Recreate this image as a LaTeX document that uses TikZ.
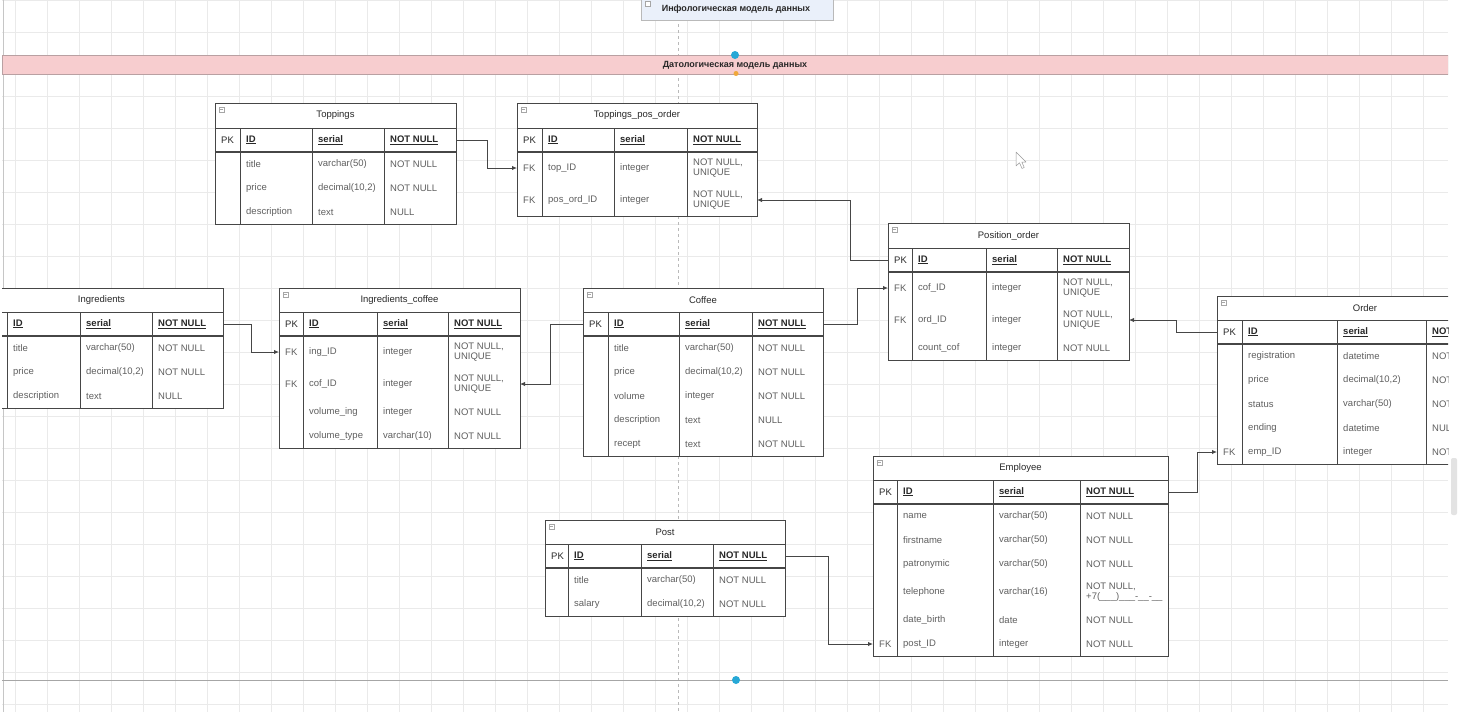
\documentclass[tikz,border=0pt]{standalone}
\usepackage{fontspec}
\setmainfont{Liberation Sans}
\usetikzlibrary{arrows.meta}

\definecolor{lineclr}{RGB}{70,70,70}
\definecolor{txtclr}{RGB}{95,95,95}
\definecolor{hdrclr}{RGB}{40,40,40}
\definecolor{bandfill}{RGB}{247,205,207}
\definecolor{bandline}{RGB}{185,160,162}
\definecolor{infofill}{RGB}{234,240,250}
\definecolor{dotblue}{RGB}{38,168,214}
\definecolor{dotorange}{RGB}{240,168,60}
\definecolor{gridclr}{RGB}{234,234,234}

\tikzset{
  tabline/.style={draw=lineclr, line width=1pt},
  pkline/.style={draw=lineclr, line width=1.6pt},
  cell/.style={anchor=west, inner sep=0pt, font=\fontsize{9.5}{10}\selectfont, text=txtclr, align=left},
  hcell/.style={cell, font=\fontsize{9.5}{10}\selectfont\bfseries, text=hdrclr},
  ttl/.style={inner sep=0pt, font=\fontsize{9.5}{10}\selectfont, text=hdrclr},
  rowbox/.style={anchor=west, inner sep=0pt, outer sep=0pt, draw=none, minimum height=#1},
  fk/.style={draw=lineclr, line width=1pt, -{Latex[length=5pt,width=4.5pt]}},
  iconbox/.style={draw=gray!70, line width=0.4pt, fill=white},
}

% column borders of the table being drawn
\newcommand{\setcols}[5]{\def\cA{#1}\def\cB{#2}\def\cC{#3}\def\cD{#4}\def\cE{#5}}

% frame of a table: name, top, title bottom, key row bottom, bottom, title
\newcommand{\ertab}[6]{%
  \node[tabline, fill=white, anchor=north west, inner sep=0pt, outer sep=0pt,
        minimum width={((\cE)-(\cA))*1pt}, minimum height={((#5)-(#2))*1pt}] (#1) at (\cA,#2) {};
  \draw[iconbox] ({\cA+4},{#2+4}) rectangle ({\cA+9},{#2+9});
  \draw[gray!70, line width=0.4pt] ({\cA+5},{#2+6.5}) -- ({\cA+8},{#2+6.5});
  \node[ttl] (#1-title) at ({((\cA)+(\cE))/2},{((#2)+(#3))/2}) {#6};
  \draw[tabline] (\cA,#3) -- (\cE,#3);
  \draw[pkline] (\cA,#4) -- (\cE,#4);
  \foreach \colx in {\cB,\cC,\cD} \draw[tabline] (\colx,#3) -- (\colx,#5);
}

% key row: name, y centre, key, field, type, constraint
\newcommand{\erpk}[6]{%
  \node[rowbox=24pt, minimum width={((\cE)-(\cA))*1pt}] (#1-pk) at (\cA,#2) {};
  \node[cell, text=hdrclr] (#1-pk-k) at ({\cA+6},#2) {#3};
  \node[hcell] (#1-pk-f) at ({\cB+6},#2) {\underline{#4}};
  \node[hcell] (#1-pk-t) at ({\cC+6},#2) {\underline{#5}};
  \node[hcell] (#1-pk-c) at ({\cD+6},#2) {\underline{#6}};
}

% body row: name, index, y centre, height, key, field, type, constraint
\newcommand{\errow}[8]{%
  \node[rowbox=#4pt, minimum width={((\cE)-(\cA))*1pt}] (#1-r#2) at (\cA,#3) {};
  \node[cell] (#1-r#2-k) at ({\cA+6},#3) {#5};
  \node[cell] (#1-r#2-f) at ({\cB+6},#3) {#6};
  \node[cell] (#1-r#2-t) at ({\cC+6},#3) {#7};
  \node[cell] (#1-r#2-c) at ({\cD+6},#3) {#8};
}

\begin{document}
\begin{tikzpicture}[x=1pt,y=-1pt]
\useasboundingbox (0,0) rectangle (1463,712);
\fill[white] (0,0) rectangle (1463,712);

% scroll bar of the canvas
\fill[gray!22, rounded corners=2pt] (1451,458) rectangle (1457,515);

\begin{scope}
\clip (2,0) rectangle (1448,712);

% background grid
\foreach \gx in {15,47,...,1447} \draw[gridclr, line width=0.5pt] (\gx,0) -- (\gx,712);
\foreach \gy in {0,32,...,704} \draw[gridclr, line width=0.5pt] (0,\gy) -- (1448,\gy);
\draw[gray!45, line width=0.8pt] (3,0) -- (3,712);

% vertical guide
\draw[gray!55, line width=0.6pt, dash pattern=on 3pt off 3pt] (678,0) -- (678,712);

% upper section heading
\node[draw=gray!55, fill=infofill, anchor=north west, inner sep=0pt,
      minimum width=192pt, minimum height=21pt] (info) at (641,-1) {};
\draw[iconbox] (645,1) rectangle (650,6);
\node[inner sep=0pt, font=\fontsize{9}{10}\selectfont\bfseries, text=hdrclr] (info-text) at (736,9) {Инфологическая модель данных};

% lower section band
\node[draw=bandline, fill=bandfill, anchor=north west, inner sep=0pt, line width=0.8pt,
      minimum width=1446pt, minimum height=19pt] (band) at (2,55) {};
\node[inner sep=0pt, font=\fontsize{9}{10}\selectfont\bfseries, text=hdrclr] (band-text) at (735,65) {Датологическая модель данных};
\fill[dotblue] (735,55) circle (4pt);
\fill[dotorange] (736,73.5) circle (2.5pt);

% bottom boundary
\draw[gray!70, line width=0.8pt] (2,680) -- (1448,680);
\fill[dotblue] (736,680) circle (4pt);

% ---------- Toppings ----------
\setcols{215}{240}{312}{384}{456}
\ertab{top}{103}{128}{152}{224}{Toppings}
\erpk{top}{140}{PK}{ID}{serial}{NOT NULL}
\errow{top}{1}{164}{24}{}{title}{varchar(50)}{NOT NULL}
\errow{top}{2}{188}{24}{}{price}{decimal(10,2)}{NOT NULL}
\errow{top}{3}{212}{24}{}{description}{text}{NULL}

% ---------- Toppings_pos_order ----------
\setcols{517}{542}{614}{687}{757}
\ertab{tpo}{103}{128}{152}{216}{Toppings\_pos\_order}
\erpk{tpo}{140}{PK}{ID}{serial}{NOT NULL}
\errow{tpo}{1}{168}{32}{FK}{top\_ID}{integer}{NOT NULL,\\UNIQUE}
\errow{tpo}{2}{200}{32}{FK}{pos\_ord\_ID}{integer}{NOT NULL,\\UNIQUE}

% ---------- Ingredients (runs past the left edge) ----------
\setcols{-20}{7}{80}{152}{223}
\ertab{ing}{288}{312}{336}{408}{Ingredients}
\erpk{ing}{324}{}{ID}{serial}{NOT NULL}
\errow{ing}{1}{348}{24}{}{title}{varchar(50)}{NOT NULL}
\errow{ing}{2}{372}{24}{}{price}{decimal(10,2)}{NOT NULL}
\errow{ing}{3}{396}{24}{}{description}{text}{NULL}

% ---------- Ingredients_coffee ----------
\setcols{279}{303}{377}{448}{520}
\ertab{ic}{288}{312}{336}{448}{Ingredients\_coffee}
\erpk{ic}{324}{PK}{ID}{serial}{NOT NULL}
\errow{ic}{1}{352}{32}{FK}{ing\_ID}{integer}{NOT NULL,\\UNIQUE}
\errow{ic}{2}{384}{32}{FK}{cof\_ID}{integer}{NOT NULL,\\UNIQUE}
\errow{ic}{3}{412}{24}{}{volume\_ing}{integer}{NOT NULL}
\errow{ic}{4}{436}{24}{}{volume\_type}{varchar(10)}{NOT NULL}

% ---------- Coffee ----------
\setcols{583}{608}{679}{752}{823}
\ertab{cof}{288}{312}{336}{456}{Coffee}
\erpk{cof}{324}{PK}{ID}{serial}{NOT NULL}
\errow{cof}{1}{348}{24}{}{title}{varchar(50)}{NOT NULL}
\errow{cof}{2}{372}{24}{}{price}{decimal(10,2)}{NOT NULL}
\errow{cof}{3}{396}{24}{}{volume}{integer}{NOT NULL}
\errow{cof}{4}{420}{24}{}{description}{text}{NULL}
\errow{cof}{5}{444}{24}{}{recept}{text}{NOT NULL}

% ---------- Position_order ----------
\setcols{888}{912}{986}{1057}{1129}
\ertab{po}{223}{248}{272}{360}{Position\_order}
\erpk{po}{260}{PK}{ID}{serial}{NOT NULL}
\errow{po}{1}{288}{32}{FK}{cof\_ID}{integer}{NOT NULL,\\UNIQUE}
\errow{po}{2}{320}{32}{FK}{ord\_ID}{integer}{NOT NULL,\\UNIQUE}
\errow{po}{3}{348}{24}{}{count\_cof}{integer}{NOT NULL}

% ---------- Order (runs past the right edge) ----------
\setcols{1217}{1242}{1337}{1426}{1513}
\ertab{ord}{296}{320}{344}{464}{Order}
\erpk{ord}{332}{PK}{ID}{serial}{NOT NULL}
\errow{ord}{1}{356}{24}{}{registration}{datetime}{NOT NULL}
\errow{ord}{2}{380}{24}{}{price}{decimal(10,2)}{NOT NULL}
\errow{ord}{3}{404}{24}{}{status}{varchar(50)}{NOT NULL}
\errow{ord}{4}{428}{24}{}{ending}{datetime}{NULL}
\errow{ord}{5}{452}{24}{FK}{emp\_ID}{integer}{NOT NULL}

% ---------- Employee ----------
\setcols{873}{897}{993}{1080}{1168}
\ertab{emp}{456}{480}{504}{656}{Employee}
\erpk{emp}{492}{PK}{ID}{serial}{NOT NULL}
\errow{emp}{1}{516}{24}{}{name}{varchar(50)}{NOT NULL}
\errow{emp}{2}{540}{24}{}{firstname}{varchar(50)}{NOT NULL}
\errow{emp}{3}{564}{24}{}{patronymic}{varchar(50)}{NOT NULL}
\errow{emp}{4}{592}{32}{}{telephone}{varchar(16)}{NOT NULL,\\+7(\_\_\_)\_\_\_-\_\_-\_\_}
\errow{emp}{5}{620}{24}{}{date\_birth}{date}{NOT NULL}
\errow{emp}{6}{644}{24}{FK}{post\_ID}{integer}{NOT NULL}

% ---------- Post ----------
\setcols{545}{568}{641}{713}{785}
\ertab{post}{520}{544}{568}{616}{Post}
\erpk{post}{556}{PK}{ID}{serial}{NOT NULL}
\errow{post}{1}{580}{24}{}{title}{varchar(50)}{NOT NULL}
\errow{post}{2}{604}{24}{}{salary}{decimal(10,2)}{NOT NULL}

% ---------- references ----------
\draw[fk] (top-pk.east) -- ++(31,0) |- (tpo-r1.west);
\draw[fk] (po-pk.west) -- ++(-38,0) |- (tpo-r2.east);
\draw[fk] (ing-pk.east) -- ++(28,0) |- (ic-r1.west);
\draw[fk] (cof-pk.west) -- ++(-33,0) |- (ic-r2.east);
\draw[fk] (cof-pk.east) -- ++(34,0) |- (po-r1.west);
\draw[fk] (ord-pk.west) -- ++(-41,0) |- (po-r2.east);
\draw[fk] (emp-pk.east) -- ++(29,0) |- (ord-r5.west);
\draw[fk] (post-pk.east) -- ++(43,0) |- (emp-r6.west);

% pointer
\draw[gray!80, fill=white, line width=0.5pt, line join=round]
  (1016,152) -- (1016,166) -- (1019.5,162.8) -- (1022,168.5) -- (1024.2,167.5)
  -- (1021.8,162) -- (1026,162) -- cycle;
\end{scope}
\end{tikzpicture}
\end{document}
